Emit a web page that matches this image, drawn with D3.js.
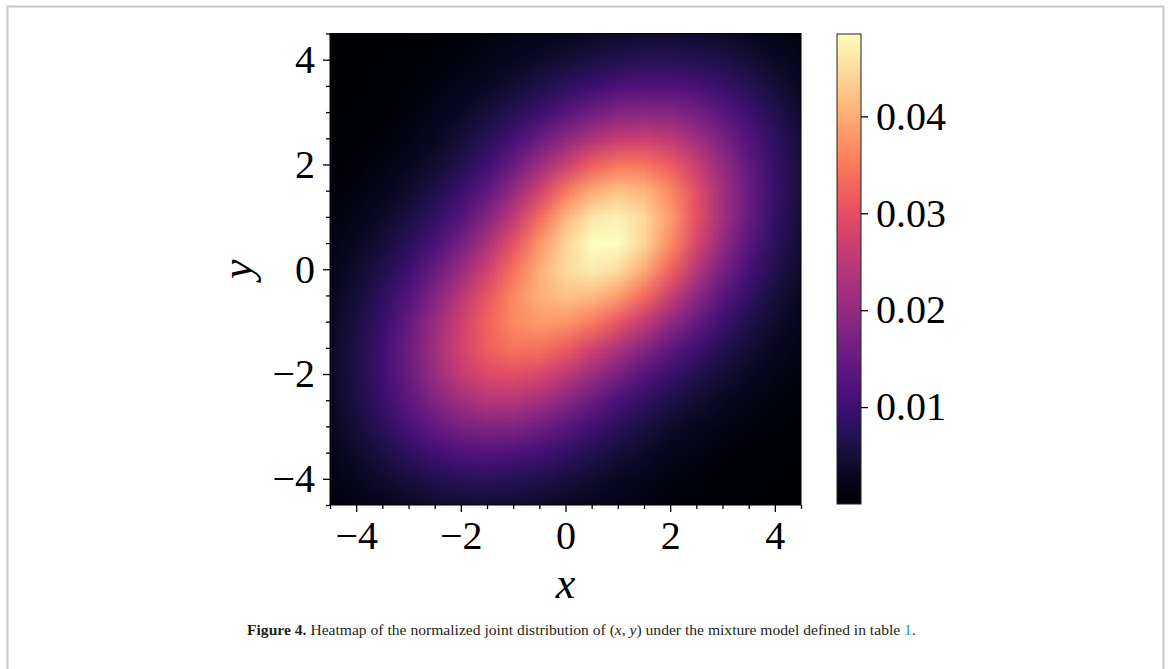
<!DOCTYPE html>
<html><head><meta charset="utf-8">
<script src="https://cdn.jsdelivr.net/npm/d3@7"></script>
<style>body{margin:0;background:#fff;} svg{display:block;}</style>
</head><body>
<svg id="chart" width="1172" height="669"></svg>
<script>
// ---- data ----
const xValues = [-4.5,-4,-3.5,-3,-2.5,-2,-1.5,-1,-0.5,0,0.5,1,1.5,2,2.5,3,3.5,4,4.5];
const yValues = [-4.5,-4,-3.5,-3,-2.5,-2,-1.5,-1,-0.5,0,0.5,1,1.5,2,2.5,3,3.5,4,4.5];
// density[j][i] : value at (xValues[i], yValues[j])
const density = [
[0.00107,0.00169,0.00249,0.00340,0.00400,0.00448,0.00457,0.00432,0.00375,0.00315,0.00252,0.00194,0.00144,0.00105,0.00074,0.00051,0.00035,0.00023,0.00015],
[0.00161,0.00268,0.00411,0.00543,0.00679,0.00766,0.00790,0.00735,0.00649,0.00538,0.00420,0.00314,0.00229,0.00165,0.00117,0.00082,0.00057,0.00039,0.00026],
[0.00226,0.00392,0.00584,0.00822,0.01041,0.01198,0.01232,0.01185,0.01053,0.00865,0.00669,0.00496,0.00360,0.00255,0.00181,0.00129,0.00091,0.00063,0.00042],
[0.00295,0.00494,0.00784,0.01119,0.01451,0.01675,0.01797,0.01765,0.01581,0.01312,0.01024,0.00766,0.00552,0.00395,0.00283,0.00201,0.00142,0.00098,0.00065],
[0.00333,0.00590,0.00946,0.01383,0.01800,0.02177,0.02399,0.02396,0.02198,0.01870,0.01500,0.01139,0.00842,0.00612,0.00438,0.00312,0.00217,0.00147,0.00096],
[0.00359,0.00637,0.01041,0.01522,0.02074,0.02579,0.02902,0.02988,0.02835,0.02514,0.02081,0.01649,0.01261,0.00933,0.00675,0.00474,0.00323,0.00212,0.00136],
[0.00355,0.00633,0.01026,0.01561,0.02181,0.02766,0.03212,0.03434,0.03418,0.03155,0.02764,0.02305,0.01828,0.01391,0.01009,0.00699,0.00463,0.00297,0.00184],
[0.00327,0.00570,0.00950,0.01469,0.02081,0.02716,0.03273,0.03674,0.03821,0.03758,0.03495,0.03063,0.02542,0.01977,0.01442,0.00986,0.00643,0.00402,0.00243],
[0.00279,0.00491,0.00817,0.01266,0.01829,0.02463,0.03106,0.03641,0.04039,0.04233,0.04165,0.03854,0.03313,0.02634,0.01932,0.01325,0.00856,0.00526,0.00310],
[0.00232,0.00400,0.00654,0.01017,0.01498,0.02093,0.02740,0.03415,0.04033,0.04477,0.04668,0.04505,0.03994,0.03236,0.02421,0.01677,0.01084,0.00660,0.00383],
[0.00185,0.00309,0.00498,0.00774,0.01164,0.01667,0.02300,0.03035,0.03785,0.04448,0.04842,0.04837,0.04400,0.03670,0.02810,0.01981,0.01294,0.00790,0.00453],
[0.00142,0.00230,0.00366,0.00569,0.00861,0.01279,0.01847,0.02550,0.03347,0.04094,0.04609,0.04730,0.04445,0.03821,0.03003,0.02168,0.01444,0.00888,0.00510],
[0.00105,0.00168,0.00264,0.00407,0.00626,0.00954,0.01418,0.02037,0.02758,0.03468,0.03999,0.04236,0.04107,0.03638,0.02947,0.02189,0.01488,0.00933,0.00543],
[0.00076,0.00120,0.00187,0.00290,0.00451,0.00694,0.01052,0.01534,0.02111,0.02694,0.03188,0.03473,0.03466,0.03168,0.02651,0.02024,0.01414,0.00909,0.00537],
[0.00054,0.00085,0.00132,0.00207,0.00321,0.00497,0.00750,0.01090,0.01498,0.01940,0.02339,0.02608,0.02679,0.02526,0.02175,0.01712,0.01236,0.00815,0.00493],
[0.00036,0.00059,0.00094,0.00147,0.00228,0.00347,0.00515,0.00733,0.01002,0.01301,0.01587,0.01804,0.01901,0.01839,0.01632,0.01328,0.00987,0.00670,0.00415],
[0.00024,0.00040,0.00065,0.00103,0.00159,0.00236,0.00339,0.00473,0.00636,0.00820,0.01003,0.01157,0.01239,0.01228,0.01123,0.00940,0.00720,0.00503,0.00323],
[0.00016,0.00027,0.00045,0.00071,0.00107,0.00155,0.00217,0.00295,0.00387,0.00491,0.00598,0.00689,0.00747,0.00757,0.00708,0.00609,0.00479,0.00347,0.00229],
[0.00010,0.00018,0.00029,0.00046,0.00069,0.00098,0.00135,0.00178,0.00227,0.00282,0.00337,0.00386,0.00421,0.00431,0.00410,0.00361,0.00293,0.00218,0.00149]
];
const xTicks = [-4,-2,0,2,4];
const yTicks = [-4,-2,0,2,4];
const minorTicks = [-4.5,-3.5,-3,-2.5,-1.5,-1,-0.5,0.5,1,1.5,2.5,3,3.5,4.5];
const colorbarTicks = [0.01,0.02,0.03,0.04];
const colorDomain = [0, 0.0485];
const axisExtent = [-4.5, 4.5];
const xLabel = "x", yLabel = "y";

// ---- layout ----
const svg = d3.select("#chart");
const plot = {left:330, right:801, top:33.5, bottom:505};
const cb = {left:837, right:861, top:34, bottom:504};
const tickFont = "'Liberation Serif', 'DejaVu Serif', serif";

const x = d3.scaleLinear().domain(axisExtent).range([plot.left, plot.right]);
const y = d3.scaleLinear().domain(axisExtent).range([plot.bottom, plot.top]);
const color = d3.scaleSequential(d3.interpolateMagma).domain(colorDomain).clamp(true);

// frame
svg.append("path").attr("d","M7.5,700V6.5H1163.5V700")
  .attr("fill","none").attr("stroke","#c8c8c8").attr("stroke-width",2);

// heatmap image from the grid
const nx = xValues.length, ny = yValues.length;
const cv = document.createElement("canvas");
cv.width = nx; cv.height = ny;
const ctx = cv.getContext("2d");
const img = ctx.createImageData(nx, ny);
for (let j = 0; j < ny; j++) {
  for (let i = 0; i < nx; i++) {
    const c = d3.rgb(color(density[j][i]));
    const r = ny - 1 - j;
    const p = (r * nx + i) * 4;
    img.data[p] = c.r; img.data[p+1] = c.g; img.data[p+2] = c.b; img.data[p+3] = 255;
  }
}
ctx.putImageData(img, 0, 0);
const dx = (xValues[1]-xValues[0]) / 2, dy = (yValues[1]-yValues[0]) / 2;

svg.append("clipPath").attr("id","plotclip").append("rect")
  .attr("x", x(axisExtent[0])).attr("y", y(axisExtent[1]))
  .attr("width", x(axisExtent[1]) - x(axisExtent[0]))
  .attr("height", y(axisExtent[0]) - y(axisExtent[1]));

svg.append("g").attr("clip-path","url(#plotclip)").append("image")
  .attr("href", cv.toDataURL())
  .attr("x", x(xValues[0]-dx)).attr("y", y(yValues[ny-1]+dy))
  .attr("width", x(xValues[nx-1]+dx) - x(xValues[0]-dx))
  .attr("height", y(yValues[0]-dy) - y(yValues[ny-1]+dy))
  .attr("preserveAspectRatio","none")
  .style("image-rendering","auto");

svg.append("rect")
  .attr("x", x(axisExtent[0])).attr("y", y(axisExtent[1]))
  .attr("width", x(axisExtent[1]) - x(axisExtent[0]))
  .attr("height", y(axisExtent[0]) - y(axisExtent[1]))
  .attr("fill","none").attr("stroke","#000").attr("stroke-width",1);

const fmt = d => d < 0 ? "\u2212" + Math.abs(d) : String(d);

// x axis
const gx = svg.append("g").attr("transform",`translate(0,${plot.bottom})`);
gx.append("g").call(d3.axisBottom(x).tickValues(minorTicks).tickSize(4).tickFormat(""));
gx.append("g").call(d3.axisBottom(x).tickValues(xTicks).tickSize(7).tickPadding(9).tickFormat(fmt));
gx.selectAll(".domain").remove();
gx.selectAll("line").attr("stroke","#000").attr("stroke-width",1.3);
gx.selectAll("text").attr("fill","#000").style("font-family",tickFont).style("font-size","40px");

// y axis
const gy = svg.append("g").attr("transform",`translate(${plot.left},0)`);
gy.append("g").call(d3.axisLeft(y).tickValues(minorTicks).tickSize(4).tickFormat(""));
gy.append("g").call(d3.axisLeft(y).tickValues(yTicks).tickSize(7).tickPadding(8).tickFormat(fmt));
gy.selectAll(".domain").remove();
gy.selectAll("line").attr("stroke","#000").attr("stroke-width",1.3);
gy.selectAll("text").attr("fill","#000").style("font-family",tickFont).style("font-size","40px");

// axis labels
svg.append("text").attr("x", (plot.left+plot.right)/2).attr("y", 598)
  .attr("text-anchor","middle").style("font-family",tickFont).style("font-style","italic")
  .style("font-size","44px").text(xLabel);
svg.append("text").attr("transform",`translate(252,${(plot.top+plot.bottom)/2}) rotate(-90)`)
  .attr("text-anchor","middle").style("font-family",tickFont).style("font-style","italic")
  .style("font-size","44px").text(yLabel);

// colorbar
const grad = svg.append("defs").append("linearGradient").attr("id","cbgrad")
  .attr("x1",0).attr("y1",1).attr("x2",0).attr("y2",0);
d3.range(0, 1.0001, 1/48).forEach(t => {
  grad.append("stop").attr("offset", t)
    .attr("stop-color", color(colorDomain[0] + t*(colorDomain[1]-colorDomain[0])));
});
svg.append("rect").attr("x",cb.left).attr("y",cb.top)
  .attr("width",cb.right-cb.left).attr("height",cb.bottom-cb.top)
  .attr("fill","url(#cbgrad)").attr("stroke","#222").attr("stroke-width",1);
const cbScale = d3.scaleLinear().domain(colorDomain).range([cb.bottom, cb.top]);
const gc = svg.append("g").attr("transform",`translate(${cb.right},0)`)
  .call(d3.axisRight(cbScale).tickValues(colorbarTicks).tickSize(7).tickPadding(8).tickFormat(d3.format(".2f")));
gc.selectAll(".domain").remove();
gc.selectAll("line").attr("stroke","#000").attr("stroke-width",1.3);
gc.selectAll("text").attr("fill","#000").style("font-family",tickFont).style("font-size","40px");

// caption
const cap = svg.append("text").attr("x",247).attr("y",635)
  .style("font-family","'Liberation Serif', serif").style("font-size","15.6px").attr("fill","#231f20");
cap.append("tspan").style("font-weight","bold").text("Figure 4.");
cap.append("tspan").text(" Heatmap of the normalized joint distribution of (");
cap.append("tspan").style("font-style","italic").text("x");
cap.append("tspan").text(", ");
cap.append("tspan").style("font-style","italic").text("y");
cap.append("tspan").text(") under the mixture model defined in table ");
cap.append("tspan").attr("fill","#2a8fcc").text("1");
cap.append("tspan").text(".");
</script>
</body></html>
